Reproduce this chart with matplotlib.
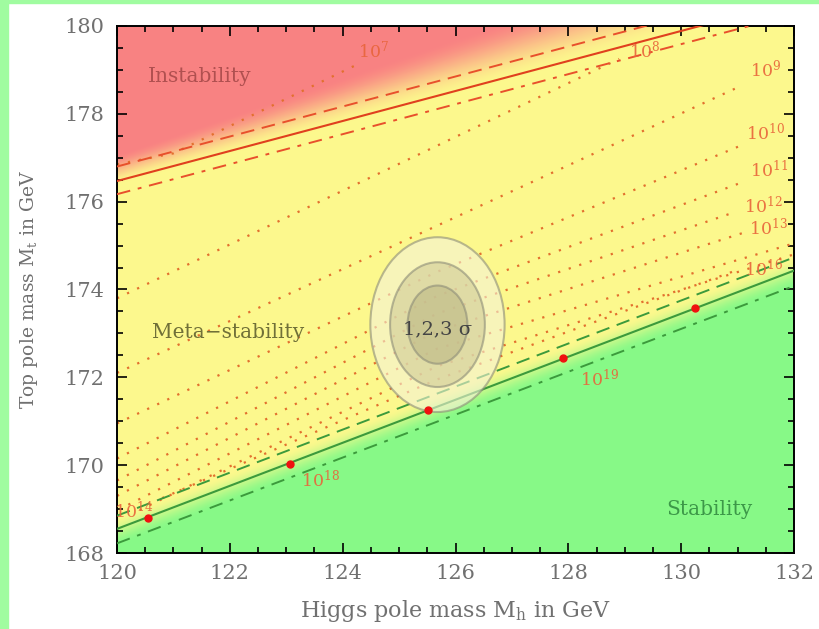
import numpy as np
import matplotlib.pyplot as plt
from matplotlib.patches import Ellipse, Rectangle

plt.rcParams["font.family"] = ["DejaVu Serif"]
plt.rcParams["mathtext.default"] = "regular"

# axis ranges
MH_RANGE = [120, 132]
MT_RANGE = [168, 180]

# boundary lines: Mt at Mh=120 and Mh=132
red_mid = [176.47, 180.57]
red_up = [176.80, 180.90]
red_lo = [176.17, 180.27]
green_mid = [168.55, 174.43]
green_up = [168.85, 174.73]
green_lo = [168.22, 174.08]

# instability scale contours (dotted), one list of points each
lam_mh = [
    [120.0, 121.0, 124.3],
    [120.0, 128.9],
    [120.0, 131.0],
    [120.0, 125.67, 131.1],
    [120.0, 125.67, 131.1],
    [120.0, 125.67, 130.9],
    [120.0, 125.67, 131.1],
    [120.2, 125.67, 132.0],
    [120.4, 125.67, 132.0],
    [120.8, 125.67, 130.9],
]
lam_mt = [
    [176.85, 177.10, 179.15],
    [173.80, 179.25],
    [172.10, 178.60],
    [170.95, 174.40, 177.30],
    [170.15, 173.85, 176.45],
    [169.65, 173.45, 175.74],
    [169.30, 173.05, 175.29],
    [169.10, 172.65, 175.05],
    [168.98, 172.25, 174.80],
    [169.25, 171.95, 174.40],
]

# contour labels
lab_text = ["$10^{7}$", "$10^{8}$", "$10^{9}$", "$10^{10}$", "$10^{11}$",
            "$10^{12}$", "$10^{13}$", "$10^{16}$", "$10^{19}$", "$10^{18}$", "$10^{14}$"]
lab_mh = [124.55, 129.35, 131.5, 131.5, 131.55, 131.45, 131.55, 131.45, 128.55, 123.6, 120.3]
lab_mt = [179.45, 179.45, 179.0, 177.55, 176.7, 175.9, 175.4, 174.45, 171.95, 169.65, 168.95]

# red points on the stability line
dot_mh = [120.55, 123.07, 125.51, 127.91, 130.25]
dot_mt = [168.80, 170.02, 171.25, 172.44, 173.58]

# 1, 2, 3 sigma ellipses
ell_center = (125.68, 173.2)
ell_w = [2.38, 1.68, 1.06]
ell_h = [3.98, 2.84, 1.78]
ell_fc = ["#f4f2d8", "#cfcb98", "#bdb886"]


def line_at(ends, mh):
    return ends[0] + (ends[1] - ends[0]) * (mh - MH_RANGE[0]) / (MH_RANGE[1] - MH_RANGE[0])


def smooth(t):
    t = np.clip(t, 0, 1)
    return t * t * (3 - 2 * t)


def background():
    mh = np.linspace(MH_RANGE[0], MH_RANGE[1], 600)
    mt = np.linspace(MT_RANGE[0], MT_RANGE[1], 600)
    MH, MT = np.meshgrid(mh, mt)
    yellow = np.array([0.992, 0.973, 0.553])
    red = np.array([0.976, 0.510, 0.510])
    green = np.array([0.533, 0.980, 0.533])
    d_red = MT - line_at(red_mid, MH)
    w_red = smooth((d_red + 0.1) / (0.7 + 0.1 * (MH - 120)))
    d_green = line_at(green_mid, MH) - MT
    w_green = smooth((d_green + 0.3) / 0.7)
    img = yellow[None, None, :] * np.ones(MH.shape)[..., None]
    img = img * (1 - w_red[..., None]) + red * w_red[..., None]
    img = img * (1 - w_green[..., None]) + green * w_green[..., None]
    return img


def plot():
    fig = plt.figure(figsize=(8.19, 6.29), dpi=100)
    fig.patches.append(Rectangle((0, 0), 8 / 819, 1, transform=fig.transFigure,
                                 color="#a0fca0", zorder=-10))
    fig.patches.append(Rectangle((0, 1 - 3 / 629), 1, 3 / 629, transform=fig.transFigure,
                                 color="#a0fca0", zorder=-10))
    ax = fig.add_axes([0.1429, 0.1208, 0.8266, 0.8379])

    ax.imshow(background(), origin="lower", aspect="auto",
              extent=[MH_RANGE[0], MH_RANGE[1], MT_RANGE[0], MT_RANGE[1]], zorder=0)

    xs = np.array(MH_RANGE)
    ax.plot(xs, red_up, color="#e8502c", lw=1.4, ls=(0, (7, 4)), zorder=3)
    ax.plot(xs, red_mid, color="#e0401e", lw=1.5, zorder=3)
    ax.plot(xs, red_lo, color="#e8502c", lw=1.4, ls=(0, (7, 4, 2, 4)), zorder=3)
    ax.plot(xs, green_up, color="#3c9a3c", lw=1.4, ls=(0, (7, 4)), zorder=3)
    ax.plot(xs, green_mid, color="#3c9a3c", lw=1.5, zorder=3)
    ax.plot(xs, green_lo, color="#3c9a3c", lw=1.4, ls=(0, (7, 4, 2, 4)), zorder=3)

    for mh, mt in zip(lam_mh, lam_mt):
        ax.plot(mh, mt, color="#e2702e", lw=1.6, ls=(0, (1, 4)), zorder=2)

    for w, h, fc in zip(ell_w, ell_h, ell_fc):
        ax.add_patch(Ellipse(ell_center, w, h, facecolor=fc, edgecolor="#8c8c78",
                             lw=1.5, alpha=0.6, zorder=4))

    ax.plot(dot_mh, dot_mt, "o", color="#f01010", ms=5, zorder=6)

    for t, x, y in zip(lab_text, lab_mh, lab_mt):
        ax.text(x, y, t, color="#e8643a", fontsize=12.5, ha="center", va="center",
                alpha=0.9, zorder=5, clip_on=True)

    ax.text(ell_center[0], 173.1, "1,2,3 σ", fontsize=14, color="#444444",
            ha="center", va="center", zorder=7)
    ax.text(121.47, 178.84, "Instability", fontsize=14.5, color="#b05050",
            ha="center", va="center", zorder=5)
    ax.text(121.97, 173.03, "Meta\u2212stability", fontsize=14.5, color="#707038",
            ha="center", va="center", zorder=5)
    ax.text(130.5, 169.0, "Stability", fontsize=14.5, color="#3c9848",
            ha="center", va="center", zorder=5)

    ax.set_xlim(MH_RANGE)
    ax.set_ylim(MT_RANGE)
    ax.set_xticks(np.arange(120, 133, 2))
    ax.set_yticks(np.arange(168, 181, 2))
    ax.set_xticks(np.arange(120, 132.01, 0.5), minor=True)
    ax.set_yticks(np.arange(168, 180.01, 0.5), minor=True)
    ax.tick_params(which="both", direction="in", top=True, right=True,
                   colors="black", labelcolor="#707070", labelsize=15, width=1.2)
    ax.tick_params(which="major", length=7)
    ax.tick_params(which="minor", length=4)
    ax.tick_params(axis="x", which="major", pad=8)
    ax.tick_params(axis="y", which="major", pad=9)
    for s in ax.spines.values():
        s.set_linewidth(1.4)

    ax.set_xlabel("Higgs pole mass M$_h$ in GeV", fontsize=16, color="#707070", labelpad=11)
    ax.set_ylabel("Top pole mass M$_t$ in GeV", fontsize=13.5, color="#707070", labelpad=18)

    fig.savefig("out.png", dpi=100)


if __name__ == "__main__":
    plot()
